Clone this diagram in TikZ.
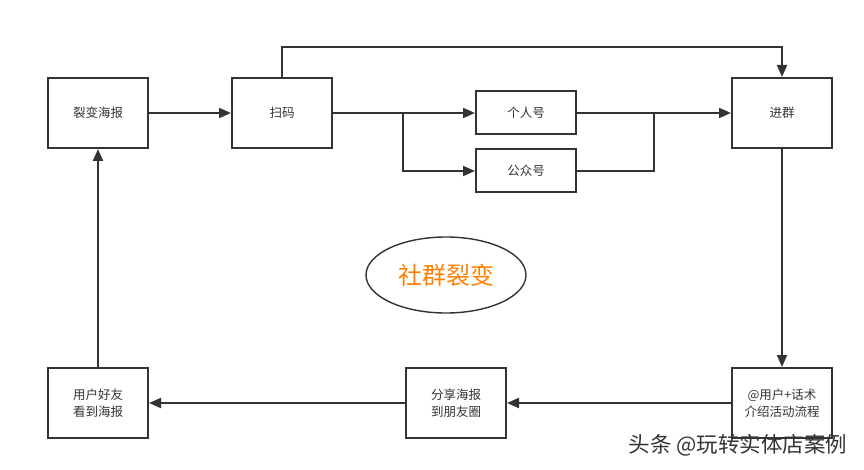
\documentclass[tikz,border=0pt]{standalone}
\usepackage{fontspec}
\setmainfont{Noto Sans CJK SC}
\usetikzlibrary{arrows.meta,shapes.geometric}
\definecolor{linegray}{HTML}{333333}
\definecolor{titleorange}{HTML}{FF8000}
\tikzset{
  flowbox/.style={draw=linegray,line width=2pt,minimum width=100pt,minimum height=70pt,
    inner sep=0pt,align=center,font=\fontsize{12.5pt}{17pt}\selectfont,text=linegray},
  smallbox/.style={flowbox,minimum height=43pt},
  flowline/.style={draw=linegray,line width=2pt},
  flowarrow/.style={flowline,-{Triangle[length=12pt,width=10pt]}}
}
\begin{document}
\begin{tikzpicture}[x=1pt,y=-1pt]
\useasboundingbox (0,0) rectangle (864,470);
\node[flowbox] (Fission_Poster) at (98, 113) {裂变海报};
\node[flowbox] (Scan_Code) at (282, 113) {扫码};
\node[smallbox] (Personal_Account) at (526, 113) {个人号};
\node[smallbox] (Official_Account) at (526, 171) {公众号};
\node[flowbox] (Join_Group) at (782, 113) {进群};
\node[flowbox] (Mention_Users) at (782, 403) {@用户+话术\\介绍活动流程};
\node[flowbox] (Share_Poster) at (456, 403) {分享海报\\到朋友圈};
\node[flowbox] (Friends_See) at (98, 403) {用户好友\\看到海报};
\node[draw=linegray,line width=1.4pt,ellipse,minimum width=160pt,minimum height=76pt,
  text=titleorange,font=\fontsize{24pt}{28pt}\selectfont] (Group_Fission) at (446, 275) {社群裂变};
\coordinate (Top_Turn) at (782, 47);
\coordinate (Split_Point) at (403, 113);
\coordinate (Merge_Point) at (654, 113);
% connectors
\draw[flowarrow] (Fission_Poster) -- (Scan_Code);
\draw[flowarrow] (Scan_Code.north) |- (Top_Turn) -- (Join_Group.north);
\draw[flowarrow] (Scan_Code) -- (Personal_Account);
\draw[flowarrow] (Split_Point) |- (Official_Account.west);
\draw[flowarrow] (Personal_Account) -- (Join_Group);
\draw[flowline] (Official_Account.east) -| (Merge_Point);
\draw[flowarrow] (Join_Group) -- (Mention_Users);
\draw[flowarrow] (Mention_Users) -- (Share_Poster);
\draw[flowarrow] (Share_Poster) -- (Friends_See);
\draw[flowarrow] (Friends_See) -- (Fission_Poster);
\node[text=linegray,font=\fontsize{21.5pt}{24pt}\selectfont,inner sep=0pt] (Watermark) at (738, 445) {头条 @玩转实体店案例};
\end{tikzpicture}
\end{document}
